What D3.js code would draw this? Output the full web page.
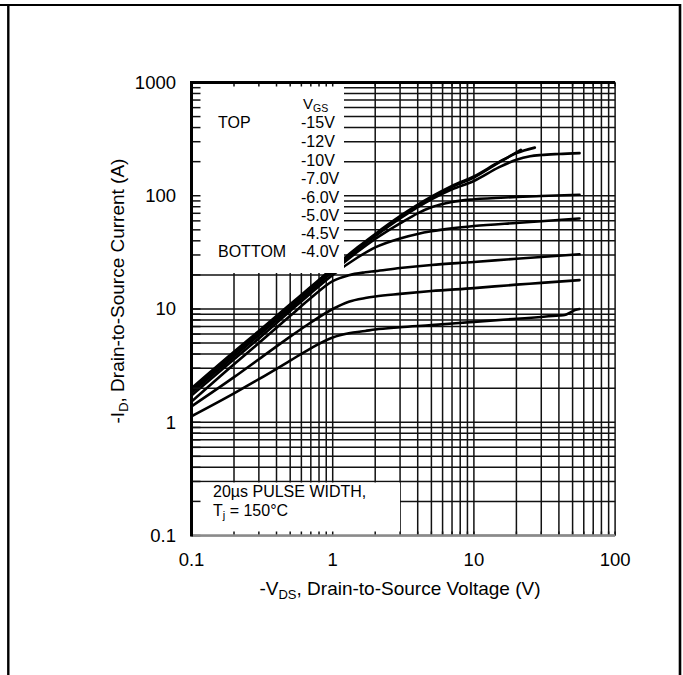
<!DOCTYPE html>
<html>
<head>
<meta charset="utf-8">
<script src="https://cdn.jsdelivr.net/npm/d3@7"></script>
<style>
  html, body { margin: 0; padding: 0; background: #fff; }
  svg { display: block; }
  text { font-family: "Liberation Sans", Arial, sans-serif; fill: #000; }
</style>
</head>
<body>
<svg id="chart" width="683" height="675"></svg>
<script>
// ---------------- data ----------------
const vgsLabels = ["-15V", "-12V", "-10V", "-7.0V", "-6.0V", "-5.0V", "-4.5V", "-4.0V"];
const xTickValues = [0.1, 1, 10, 100];
const xTickLabels = ["0.1", "1", "10", "100"];
const yTickValues = [0.1, 1, 10, 100, 1000];
const yTickLabels = ["0.1", "1", "10", "100", "1000"];

// each curve: [ -VDS (V), -ID (A) ]
const curve15V = [[0.1,2.0],[0.2,4.2],[0.3,6.4],[0.5,11],[0.7,15.7],[1,23],[1.5,35],[2,46],[3,66],[5,98],[7,122],[10,148],[15,198],[20,238],[27,266]];
const curve12V = [[0.1,1.95],[0.2,4.1],[0.3,6.25],[0.5,10.8],[0.7,15.4],[1,22.5],[1.5,34.3],[2,45],[3,64.5],[5,96],[7,120],[10,145],[15,196],[21.5,254]];
const curve10V = [[0.1,1.9],[0.2,4.0],[0.3,6.1],[0.5,10.5],[0.7,15],[1,22],[1.5,33.5],[2,44],[3,63],[5,93],[7,114],[10,135],[15,178],[20,208],[25,223],[30,229],[40,234],[56,238]];
const curve7V  = [[0.1,1.82],[0.2,3.8],[0.3,5.85],[0.5,10.1],[0.7,14.5],[1,21.3],[1.5,32],[2,41.5],[3,57],[4,70],[5,79],[7,88],[10,93],[20,97.5],[30,99.5],[56,102]];
const curve6V  = [[0.1,1.72],[0.2,3.6],[0.3,5.5],[0.5,9.6],[0.7,13.8],[1,20],[1.5,28.5],[2,35],[3,42],[4,46],[5,48.5],[7,51.5],[10,54],[20,57.5],[30,59.5],[56,63]];
const curve5V  = [[0.1,1.52],[0.2,3.25],[0.3,5.0],[0.5,8.7],[0.7,12.5],[1,17.6],[1.3,19.9],[1.7,21.1],[2,21.6],[3,23],[5,24.5],[10,26],[20,27.8],[30,28.8],[56,30.4]];
const curve45V = [[0.1,1.38],[0.2,2.5],[0.3,3.6],[0.5,5.7],[0.7,7.6],[1,10],[1.3,11.6],[1.7,12.5],[2,12.9],[3,13.6],[5,14.4],[10,15.3],[20,16.4],[30,17],[56,18]];
const curve4V  = [[0.1,1.13],[0.2,1.8],[0.3,2.4],[0.5,3.5],[0.7,4.5],[1,5.6],[1.3,6.1],[1.7,6.4],[2,6.6],[3,6.9],[5,7.2],[10,7.7],[20,8.2],[30,8.5],[40,8.75],[44,8.85],[48,9.3],[52,9.8],[56,10]];
const curves = [curve15V, curve12V, curve10V, curve7V, curve6V, curve5V, curve45V, curve4V];

// ---------------- layout ----------------
const svg = d3.select("#chart");
const X0 = 191.5, X1 = 615.1, Y0 = 535.5, Y1 = 82.5;
const x = d3.scaleLog().domain([0.1, 100]).range([X0, X1]);
const y = d3.scaleLog().domain([0.1, 1000]).range([Y0, Y1]);

function minorTicks(lo, hi) {
  const out = [];
  for (let d = lo; d < hi * 0.999; d *= 10) {
    for (let m = 1; m <= 9; m++) out.push(+(d * m).toPrecision(3));
  }
  out.push(hi);
  return out;
}
const xGrid = minorTicks(0.1, 100);
const yGrid = minorTicks(0.1, 1000);

// outer frame
svg.append("line").attr("x1", 0).attr("x2", 681).attr("y1", 5).attr("y2", 5).attr("stroke", "#000").attr("stroke-width", 2.2);
svg.append("line").attr("x1", 8.3).attr("x2", 8.3).attr("y1", 4).attr("y2", 675).attr("stroke", "#000").attr("stroke-width", 2.4);
svg.append("line").attr("x1", 680).attr("x2", 680).attr("y1", 4).attr("y2", 675).attr("stroke", "#000").attr("stroke-width", 2.6);

// grid
const grid = svg.append("g").attr("stroke", "#111").attr("stroke-width", 1.5);
grid.selectAll("line.v").data(xGrid).join("line").attr("class", "v")
  .attr("x1", d => x(d)).attr("x2", d => x(d)).attr("y1", Y1).attr("y2", Y0);
grid.selectAll("line.h").data(yGrid).join("line").attr("class", "h")
  .attr("x1", X0).attr("x2", X1).attr("y1", d => y(d)).attr("y2", d => y(d));

// curves
const line = d3.line().x(d => x(d[0])).y(d => y(d[1])).curve(d3.curveMonotoneX);
svg.append("g").selectAll("path").data(curves).join("path")
  .attr("d", line).attr("fill", "none").attr("stroke", "#000")
  .attr("stroke-width", 2.6).attr("stroke-linecap", "round");

// white boxes
svg.append("rect").attr("x", X0).attr("y", Y1).attr("width", 344 - X0).attr("height", 273 - Y1).attr("fill", "#fff");
svg.append("rect").attr("x", X0).attr("y", 482.5).attr("width", 400 - X0).attr("height", Y0 - 482.5).attr("fill", "#fff");

// ticks on the axes
const ticks = svg.append("g").attr("stroke", "#111").attr("stroke-width", 1.5);
ticks.selectAll("line.l").data(yGrid).join("line").attr("class", "l")
  .attr("x1", X0).attr("x2", X0 + 9).attr("y1", d => y(d)).attr("y2", d => y(d));
ticks.selectAll("line.t").data(xGrid).join("line").attr("class", "t")
  .attr("x1", d => x(d)).attr("x2", d => x(d)).attr("y1", Y1).attr("y2", Y1 + 4);
ticks.selectAll("line.b").data(xGrid).join("line").attr("class", "b")
  .attr("x1", d => x(d)).attr("x2", d => x(d)).attr("y1", Y0 - 4).attr("y2", Y0);

// axis frame
svg.append("line").attr("x1", X0 - 1).attr("x2", X1).attr("y1", Y1).attr("y2", Y1).attr("stroke", "#000").attr("stroke-width", 3);
svg.append("line").attr("x1", X0).attr("x2", X1).attr("y1", Y0).attr("y2", Y0).attr("stroke", "#8a8a8a").attr("stroke-width", 2.5);
svg.append("line").attr("x1", X0).attr("x2", X0).attr("y1", Y1 - 1.5).attr("y2", Y0 + 1).attr("stroke", "#000").attr("stroke-width", 3);

// tick labels
svg.append("g").selectAll("text").data(yTickValues).join("text")
  .attr("x", 176).attr("y", d => y(d)).attr("dy", "0.35em")
  .attr("text-anchor", "end").style("font-size", "18.5px")
  .text((d, i) => yTickLabels[i]);
svg.append("g").selectAll("text").data(xTickValues).join("text")
  .attr("x", d => x(d)).attr("y", 566)
  .attr("text-anchor", "middle").style("font-size", "18.5px")
  .text((d, i) => xTickLabels[i]);

// axis titles
const xt = svg.append("text").attr("x", 400).attr("y", 595).attr("text-anchor", "middle").style("font-size", "19px");
xt.append("tspan").text("-V");
xt.append("tspan").attr("dy", 4).style("font-size", "13px").text("DS");
xt.append("tspan").attr("dy", -4).text(", Drain-to-Source Voltage (V)");

const yt = svg.append("text").attr("transform", "translate(124,291) rotate(-90)").attr("text-anchor", "middle").style("font-size", "19px");
yt.append("tspan").text("-I");
yt.append("tspan").attr("dy", 4).style("font-size", "13px").text("D");
yt.append("tspan").attr("dy", -4).text(", Drain-to-Source Current (A)");

// legend
const legBase = [128, 147, 166, 184, 203, 221, 239, 257];
const lg = svg.append("g").style("font-size", "16px");
lg.selectAll("text.v").data(vgsLabels).join("text").attr("class", "v")
  .attr("x", 301).attr("y", (d, i) => legBase[i]).text(d => d);
lg.append("text").attr("x", 218).attr("y", 128).text("TOP");
lg.append("text").attr("x", 218).attr("y", 257).text("BOTTOM");
const vh = lg.append("text").attr("x", 303).attr("y", 109).style("font-size", "15px");
vh.append("tspan").text("V");
vh.append("tspan").attr("dy", 2.5).style("font-size", "10.5px").text("GS");

// note box text
const nb = svg.append("g").style("font-size", "16px");
nb.append("text").attr("x", 213).attr("y", 497).text("20µs PULSE WIDTH,");
const tj = nb.append("text").attr("x", 213).attr("y", 516);
tj.append("tspan").text("T");
tj.append("tspan").attr("dy", 3).style("font-size", "11px").text("j");
tj.append("tspan").attr("dy", -3).text(" = 150°C");
</script>
</body>
</html>
